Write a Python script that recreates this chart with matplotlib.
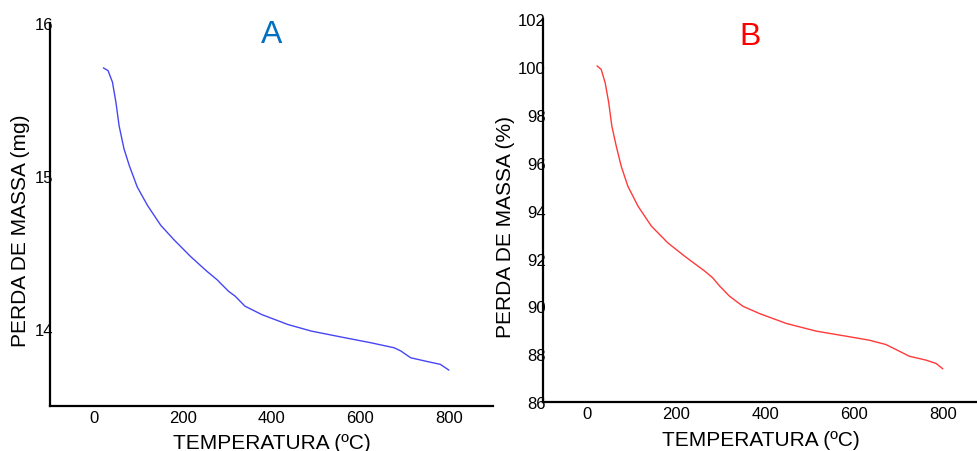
import matplotlib.pyplot as plt

# TGA curves
temp_a = [21, 31, 41, 49, 56, 67, 79, 97, 120, 150, 180, 217, 254, 277, 303,
          318, 340, 378, 437, 490, 565, 624, 677, 692, 714, 752, 781, 800]
mass_a = [15.707, 15.69, 15.615, 15.48, 15.33, 15.18, 15.07, 14.93, 14.81,
          14.68, 14.585, 14.477, 14.38, 14.325, 14.249, 14.217, 14.152, 14.097,
          14.032, 13.989, 13.946, 13.913, 13.88, 13.859, 13.815, 13.79, 13.772,
          13.735]

temp_b = [22, 31, 40, 48, 55, 65, 76, 91, 114, 144, 181, 219, 264, 282, 298,
          320, 350, 388, 448, 515, 582, 635, 672, 695, 725, 762, 785, 800]
mass_b = [100.05, 99.91, 99.35, 98.52, 97.54, 96.70, 95.87, 95.03, 94.19,
          93.36, 92.66, 92.10, 91.48, 91.20, 90.85, 90.43, 90.01, 89.70, 89.29,
          88.97, 88.76, 88.59, 88.41, 88.20, 87.92, 87.76, 87.62, 87.40]

xticks = [0, 200, 400, 600, 800]

plt.rcParams['font.family'] = ['Liberation Sans', 'DejaVu Sans']

fig = plt.figure(figsize=(9.78, 4.52), dpi=100)
ax_a = fig.add_axes([0.0511, 0.0996, 0.453, 0.847])
ax_b = fig.add_axes([0.5552, 0.108, 0.445, 0.847])


def style(ax):
    for side in ('top', 'right'):
        ax.spines[side].set_visible(False)
    for side in ('left', 'bottom'):
        ax.spines[side].set_linewidth(1.6)
        ax.spines[side].set_color('black')
    ax.tick_params(axis='both', length=0, labelsize=12)
    ax.tick_params(axis='y', pad=-2)
    ax.tick_params(axis='x', pad=3)
    ax.set_xticks(xticks)
    ax.set_xlabel('TEMPERATURA (ºC)', fontsize=15, labelpad=6)


ax_a.plot(temp_a, mass_a, color='#4646F5', lw=1.0)
ax_a.set_xlim(-100, 900)
ax_a.set_ylim(13.5, 16)
ax_a.set_yticks([14, 15, 16])
style(ax_a)
ax_a.set_ylabel('PERDA DE MASSA (mg)', fontsize=15)
ax_a.yaxis.set_label_coords(-0.045, 0.46)
ax_a.text(0.5, 1.01, 'A', transform=ax_a.transAxes, ha='center', va='top',
          fontsize=23, color='#0070C0')

ax_b.plot(temp_b, mass_b, color='#FF3A3A', lw=1.0)
ax_b.set_xlim(-100, 880)
ax_b.set_ylim(86, 102)
ax_b.set_yticks(range(86, 103, 2))
style(ax_b)
ax_b.set_ylabel('PERDA DE MASSA (%)', fontsize=15)
ax_b.yaxis.set_label_coords(-0.065, 0.46)
ax_b.text(0.475, 0.995, 'B', transform=ax_b.transAxes, ha='center', va='top',
          fontsize=23, color='#FF0000')

fig.savefig('out.png', dpi=100)
